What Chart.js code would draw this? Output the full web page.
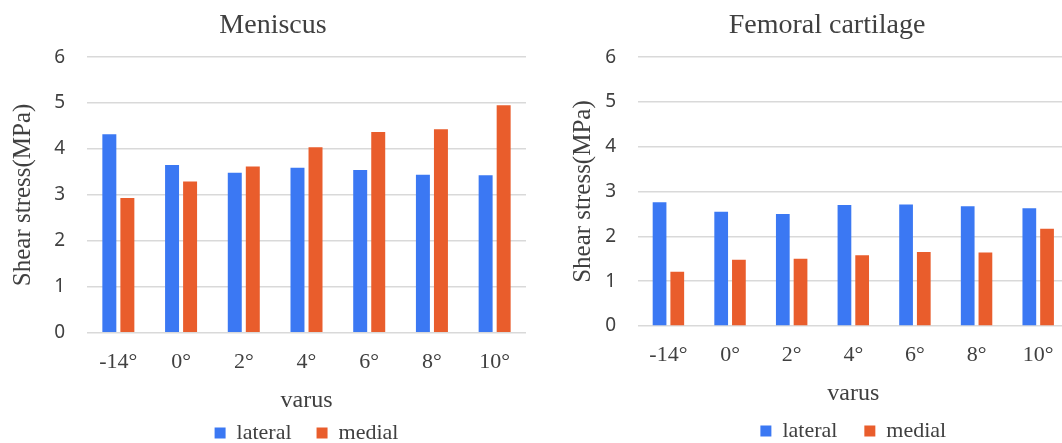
<!DOCTYPE html>
<html>
<head>
<meta charset="utf-8">
<script src="https://cdn.jsdelivr.net/npm/chart.js@4.4.1/dist/chart.umd.min.js"></script>
<style>
html, body { margin: 0; padding: 0; background: #fff; width: 1062px; height: 443px; overflow: hidden; position: relative; }
#chart_meniscus { position: absolute; left: 0; top: 0; }
#chart_femoral { position: absolute; left: 560px; top: 0; }
</style>
</head>
<body>
<canvas id="chart_meniscus" width="546" height="454"></canvas>
<canvas id="chart_femoral" width="534" height="452"></canvas>
<script>
// values
var categories = ['-14°', '0°', '2°', '4°', '6°', '8°', '10°'];
var seriesNames = ['lateral', 'medial'];
var meniscusLateral = [4.32, 3.65, 3.48, 3.59, 3.54, 3.44, 3.43];
var meniscusMedial = [2.93, 3.29, 3.62, 4.04, 4.37, 4.43, 4.95];
var femoralLateral = [2.76, 2.55, 2.50, 2.70, 2.71, 2.67, 2.63];
var femoralMedial = [1.21, 1.48, 1.50, 1.58, 1.65, 1.64, 2.17];
var yMin = 0, yMax = 6, yStep = 1;

var serif = "'Liberation Serif', 'Times New Roman', serif";
var textColor = '#404040';
var blue = '#3b78f3';
var orange = '#e95d2c';

function makeChart(id, title, lateral, medial, geo) {
    return new Chart(document.getElementById(id), {
        type: 'bar',
        data: {
            labels: categories,
            datasets: [
                {
                    label: seriesNames[0],
                    data: lateral,
                    backgroundColor: blue,
                    borderWidth: 0,
                    categoryPercentage: 0.575,
                    barPercentage: 0.775
                },
                {
                    label: seriesNames[1],
                    data: medial,
                    backgroundColor: orange,
                    borderWidth: 0,
                    categoryPercentage: 0.575,
                    barPercentage: 0.775
                }
            ]
        },
        options: {
            animation: false,
            responsive: false,
            layout: { padding: 0 },
            plugins: {
                title: {
                    display: true,
                    text: title,
                    color: textColor,
                    font: { family: serif, size: 28, weight: 'normal' },
                    padding: { top: 9, bottom: 14.5 }
                },
                legend: {
                    display: true,
                    position: 'bottom',
                    fullSize: false,
                    labels: {
                        color: textColor,
                        font: { family: serif, size: 22 },
                        boxWidth: 11,
                        boxHeight: 11,
                        padding: geo.legendPad
                    }
                },
                tooltip: { enabled: false }
            },
            scales: {
                x: {
                    grid: { display: false, drawTicks: false },
                    border: { display: false },
                    ticks: {
                        color: textColor,
                        font: { family: serif, size: 22 },
                        padding: 16,
                        maxRotation: 0
                    },
                    title: {
                        display: true,
                        text: 'varus',
                        color: textColor,
                        font: { family: serif, size: 24 },
                        padding: { top: 0, bottom: geo.xTitlePad }
                    },
                    afterFit: function(scale) {
                        scale.height = geo.xHeight;
                    }
                },
                y: {
                    min: yMin,
                    max: yMax,
                    grid: {
                        color: '#d9d9d9',
                        lineWidth: 1.5,
                        drawTicks: false
                    },
                    border: { display: false },
                    ticks: {
                        stepSize: yStep,
                        color: textColor,
                        font: { family: "'Noto Sans', sans-serif", size: 19 },
                        padding: geo.tickPad
                    },
                    title: {
                        display: true,
                        text: 'Shear stress(MPa)',
                        color: textColor,
                        font: { family: serif, size: 25 },
                        padding: { top: 8, bottom: 0 }
                    },
                    afterFit: function(scale) {
                        scale.width = geo.yWidth;
                    }
                },
                // empty spacer on the right so the title stays centred on the canvas
                spacer: {
                    type: 'linear',
                    position: 'right',
                    display: true,
                    grid: { display: false, drawTicks: false },
                    border: { display: false },
                    ticks: { display: false },
                    afterFit: function(scale) {
                        scale.width = geo.padRight;
                    }
                }
            }
        }
    });
}

var chart_meniscus = makeChart('chart_meniscus', 'Meniscus', meniscusLateral, meniscusMedial,
    { padRight: 20, legendPad: 25, xHeight: 64.3, xTitlePad: -18, yWidth: 87, tickPad: 22 });
var chart_femoral = makeChart('chart_femoral', 'Femoral cartilage', femoralLateral, femoralMedial,
    { padRight: 25, legendPad: 27, xHeight: 67, xTitlePad: -15, yWidth: 77.6, tickPad: 21.6 });
</script>
</body>
</html>
